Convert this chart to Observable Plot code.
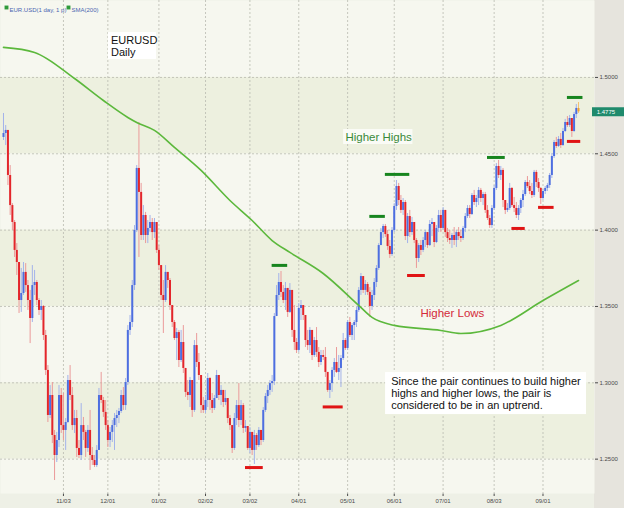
<!DOCTYPE html>
<html>
<head>
<meta charset="utf-8">
<script src="https://cdn.jsdelivr.net/npm/d3@7"></script>
<script src="https://cdn.jsdelivr.net/npm/@observablehq/plot@0.6"></script>
<style>
  html, body { margin: 0; padding: 0; background: #ffffff; }
  #chart { width: 624px; height: 508px; }
</style>
</head>
<body>
<div id="chart"></div>
<script>
// ---------- DATA (EURUSD daily) ----------
const firstOpen = 1.4607;
const close = [
1.4633,1.4653,1.4358,1.4161,1.4050,1.3867,1.3788,1.3539,1.3585,1.3723,
1.3637,1.3539,1.3421,1.3637,1.3657,1.3539,1.3474,1.3500,1.3310,1.3081,
1.2786,1.2917,1.2655,1.2524,1.2622,1.2917,1.2720,1.2688,1.2740,1.3015,
1.2917,1.2720,1.2766,1.2570,1.2524,1.2720,1.2675,1.2570,1.2688,1.2524,
1.2491,1.2458,1.2557,1.2917,1.2884,1.2806,1.2720,1.2622,1.2675,1.2720,
1.2766,1.2786,1.2812,1.2917,1.2851,1.3002,1.3343,1.3395,1.3637,1.3998,
1.4404,1.4247,1.3965,1.4096,1.3965,1.4011,1.4050,1.3984,1.4050,1.3867,
1.3768,1.3572,1.3539,1.3723,1.3670,1.3506,1.3395,1.3290,1.3329,1.3146,
1.3264,1.3094,1.2937,1.2917,1.3015,1.2819,1.3244,1.3133,1.3048,1.2851,
1.2819,1.2884,1.3028,1.2884,1.2832,1.2897,1.3048,1.2917,1.2950,1.2871,
1.2897,1.2766,1.2720,1.2570,1.2766,1.2851,1.2753,1.2851,1.2701,1.2714,
1.2570,1.2675,1.2557,1.2655,1.2589,1.2688,1.2622,1.2819,1.2910,1.2950,
1.2995,1.3008,1.3434,1.3572,1.3657,1.3592,1.3539,1.3618,1.3461,1.3605,
1.3343,1.3264,1.3212,1.3487,1.3506,1.3441,1.3277,1.3244,1.3343,1.3179,
1.3277,1.3199,1.3133,1.3179,1.3166,1.3068,1.2950,1.2995,1.3081,1.3133,
1.3068,1.3094,1.3159,1.3277,1.3225,1.3395,1.3310,1.3375,1.3395,1.3474,
1.3605,1.3696,1.3605,1.3644,1.3592,1.3500,1.3572,1.3657,1.3749,1.3899,
1.3984,1.4024,1.3971,1.3893,1.3840,1.3998,1.4155,1.4286,1.4194,1.4129,
1.4181,1.3958,1.4089,1.3984,1.4050,1.3932,1.3814,1.3899,1.3867,1.3932,
1.3984,1.3899,1.4037,1.4050,1.3919,1.4011,1.4096,1.4011,1.4129,1.3984,
1.3945,1.3932,1.3965,1.3932,1.3984,1.3958,1.3945,1.4011,1.4089,1.4142,
1.4102,1.4227,1.4181,1.4207,1.4260,1.4207,1.4233,1.4129,1.4076,1.4030,
1.4142,1.4273,1.4417,1.4358,1.4391,1.4194,1.4129,1.4142,1.4273,1.4161,
1.4142,1.4096,1.4142,1.4194,1.4233,1.4312,1.4286,1.4253,1.4227,1.4378,
1.4312,1.4273,1.4207,1.4253,1.4273,1.4292,1.4358,1.4482,1.4574,1.4548,
1.4594,1.4554,1.4646,1.4705,1.4685,1.4731,1.4646,1.4757,1.4797,1.4775
];
const high = [
1.4764,1.4685,1.4587,1.4423,1.4174,1.4063,1.3912,1.3788,1.3749,1.3788,
1.3781,1.3670,1.3605,1.3768,1.3736,1.3670,1.3552,1.3539,1.3506,1.3343,
1.3113,1.2982,1.3002,1.2688,1.2675,1.2982,1.2963,1.2930,1.2766,1.3048,
1.3113,1.2969,1.2819,1.2819,1.2622,1.2864,1.2773,1.2688,1.2720,1.2819,
1.2576,1.2524,1.2589,1.2963,1.3068,1.2904,1.2884,1.2753,1.2707,1.2753,
1.2799,1.2819,1.2832,1.2950,1.2969,1.3028,1.3375,1.3441,1.3670,1.4030,
1.4423,1.4705,1.4306,1.4161,1.4116,1.4063,1.4096,1.4076,1.4076,1.4050,
1.3899,1.3768,1.3670,1.3768,1.3723,1.3683,1.3506,1.3408,1.3356,1.3343,
1.3343,1.3375,1.3094,1.3015,1.3035,1.3015,1.3277,1.3323,1.3192,1.3048,
1.2904,1.2917,1.3061,1.3035,1.2930,1.2917,1.3081,1.3048,1.2982,1.2950,
1.2950,1.2897,1.2786,1.2720,1.2799,1.2884,1.2995,1.2884,1.2864,1.2753,
1.2714,1.2707,1.2675,1.2688,1.2668,1.2707,1.2688,1.2838,1.2930,1.2982,
1.3015,1.3048,1.3454,1.3637,1.3716,1.3729,1.3637,1.3657,1.3618,1.3650,
1.3605,1.3506,1.3290,1.3519,1.3539,1.3506,1.3441,1.3343,1.3362,1.3343,
1.3297,1.3362,1.3231,1.3212,1.3212,1.3231,1.3068,1.3015,1.3100,1.3159,
1.3231,1.3179,1.3179,1.3323,1.3290,1.3408,1.3428,1.3388,1.3408,1.3493,
1.3624,1.3716,1.3683,1.3670,1.3657,1.3624,1.3605,1.3683,1.3768,1.3912,
1.4011,1.4037,1.4037,1.3998,1.3932,1.4017,1.4174,1.4325,1.4306,1.4227,
1.4207,1.4194,1.4109,1.4129,1.4083,1.4050,1.3945,1.3912,1.3932,1.3952,
1.3998,1.3984,1.4063,1.4076,1.4050,1.4030,1.4129,1.4129,1.4148,1.4129,
1.4011,1.3998,1.3978,1.4017,1.3998,1.4017,1.3998,1.4024,1.4109,1.4161,
1.4161,1.4240,1.4260,1.4227,1.4279,1.4273,1.4247,1.4247,1.4161,1.4096,
1.4161,1.4292,1.4436,1.4456,1.4417,1.4404,1.4194,1.4174,1.4306,1.4279,
1.4214,1.4181,1.4161,1.4207,1.4260,1.4325,1.4351,1.4325,1.4306,1.4391,
1.4391,1.4338,1.4279,1.4266,1.4286,1.4306,1.4371,1.4502,1.4587,1.4607,
1.4613,1.4633,1.4666,1.4725,1.4744,1.4751,1.4731,1.4771,1.4823,1.4836
];
const low = [
1.4587,1.4554,1.4292,1.4096,1.3998,1.3821,1.3703,1.3454,1.3461,1.3572,
1.3592,1.3474,1.3257,1.3395,1.3572,1.3506,1.3441,1.3408,1.3277,1.3048,
1.2740,1.2766,1.2602,1.2360,1.2478,1.2576,1.2668,1.2622,1.2557,1.2733,
1.2884,1.2688,1.2668,1.2511,1.2504,1.2491,1.2622,1.2511,1.2544,1.2426,
1.2458,1.2445,1.2445,1.2557,1.2864,1.2773,1.2688,1.2576,1.2576,1.2609,
1.2557,1.2707,1.2733,1.2799,1.2819,1.2819,1.2982,1.3310,1.3362,1.3605,
1.3984,1.3821,1.3932,1.3932,1.3912,1.3912,1.3984,1.3932,1.3945,1.3847,
1.3736,1.3539,1.3323,1.3526,1.3618,1.3474,1.3362,1.3277,1.3146,1.3100,
1.3133,1.3061,1.2904,1.2884,1.2838,1.2773,1.2806,1.3100,1.3015,1.2799,
1.2799,1.2799,1.2838,1.2819,1.2799,1.2819,1.2897,1.2884,1.2851,1.2838,
1.2851,1.2733,1.2688,1.2537,1.2557,1.2720,1.2707,1.2720,1.2668,1.2675,
1.2557,1.2537,1.2524,1.2465,1.2557,1.2576,1.2589,1.2609,1.2806,1.2864,
1.2917,1.2937,1.2982,1.3441,1.3539,1.3559,1.3519,1.3474,1.3428,1.3454,
1.3297,1.3212,1.3192,1.3199,1.3408,1.3408,1.3231,1.3212,1.3192,1.3146,
1.3166,1.3166,1.3100,1.3113,1.3146,1.3035,1.2937,1.2897,1.2937,1.3035,
1.3061,1.3015,1.2969,1.3146,1.3212,1.3212,1.3297,1.3277,1.3277,1.3362,
1.3461,1.3572,1.3585,1.3572,1.3572,1.3428,1.3474,1.3539,1.3624,1.3736,
1.3899,1.3945,1.3952,1.3867,1.3814,1.3827,1.3984,1.4129,1.4161,1.4109,
1.4096,1.3932,1.3912,1.3952,1.3965,1.3912,1.3749,1.3788,1.3834,1.3853,
1.3886,1.3880,1.3893,1.3958,1.3886,1.3912,1.3984,1.3984,1.3998,1.3952,
1.3919,1.3906,1.3880,1.3899,1.3886,1.3932,1.3919,1.3932,1.3984,1.4076,
1.4076,1.4096,1.4161,1.4148,1.4161,1.4181,1.4161,1.4109,1.4063,1.4011,
1.4011,1.4129,1.4260,1.4338,1.4325,1.4148,1.4102,1.4115,1.4129,1.4148,
1.4115,1.4076,1.4063,1.4109,1.4148,1.4220,1.4273,1.4233,1.4207,1.4214,
1.4279,1.4247,1.4168,1.4194,1.4233,1.4253,1.4273,1.4338,1.4469,1.4535,
1.4541,1.4535,1.4548,1.4639,1.4672,1.4672,1.4607,1.4639,1.4731,1.4764
];

// SMA(200) read at a set of bar indices
const smaIdx = [0,14,32,45,56,60,68,77,89,102,112,121,129,144,160,166,176,197,206,224,243,259];
const smaVal = [1.5197,1.5164,1.4993,1.4849,1.4738,1.4705,1.4653,1.4542,1.4391,1.4194,1.4063,1.3932,1.3854,1.3716,1.3507,1.3428,1.3376,1.3343,1.3323,1.3376,1.3539,1.3670];

// Higher highs / higher lows markers (bar range + price level)
const hhStart = [121,165,172,218,254];
const hhEnd   = [128,172,183,226,261];
const hhPrice = [1.3769,1.4090,1.4365,1.4476,1.4869];
const hlStart = [109,144,182,229,241,254];
const hlEnd   = [117,153,190,235,248,260];
const hlPrice = [1.2445,1.2842,1.3703,1.4011,1.4149,1.4581];

// Axes
const yTicks = [1.25,1.30,1.35,1.40,1.45,1.50];
const xTickIdx = [27,47,70,91,111,133,155,176,198,221,243];
const xTickLabels = ["11/03","12/01","01/02","02/02","03/02","04/01","05/01","06/01","07/01","08/03","09/01"];
const bandLo = [1.45,1.35,1.25];
const bandHi = [1.50,1.40,1.30];

// Texts
const legendLabels = ["EUR.USD(1 day, 1 p)","SMA(200)"];
const titleText = "EURUSD\nDaily";
const highsText = "Higher Highs";
const lowsText = "Higher Lows";
const noteText = "Since the pair continues to build higher\nhighs and higher lows, the pair is\nconsidered to be in an uptrend.";

// ---------- BUILD ----------
const bars = close.map((c, i) => ({
  i, open: i === 0 ? firstOpen : close[i - 1], close: c, high: high[i], low: low[i],
  last: i === close.length - 1
}));
const sma = smaIdx.map((i, k) => ({i, v: smaVal[k]}));
const hh = hhStart.map((s, k) => ({s, e: hhEnd[k], p: hhPrice[k]}));
const hl = hlStart.map((s, k) => ({s, e: hlEnd[k], p: hlPrice[k]}));
const bands = bandLo.map((lo, k) => ({lo, hi: bandHi[k]}));
const lastClose = close[close.length - 1];

const X0 = -1.35, X1 = 266.2;
const bodyColor = d => d.last ? "#f0a030" : (d.close >= d.open ? "#4d6ee0" : "#e3262b");
const wickColor = d => d.last ? "#f3c070" : (d.close >= d.open ? "#a3b3ea" : "#eb9a9a");
const FONT = "Liberation Sans, Arial, Helvetica, sans-serif";

const chart = Plot.plot({
  width: 624,
  height: 508,
  marginLeft: 0,
  marginRight: 30,
  marginTop: 0,
  marginBottom: 15,
  style: {
    fontSize: "6px",
    fontFamily: FONT,
    color: "#4a4a4a",
    background: "linear-gradient(to right, #eef0e6 594px, #e6e4dd 594px)"
  },
  x: {
    type: "linear",
    domain: [X0, X1],
    axis: "bottom",
    ticks: xTickIdx,
    tickFormat: d => xTickLabels[xTickIdx.indexOf(d)],
    tickSize: 3,
    tickPadding: 2,
    label: null
  },
  y: {
    domain: [1.2275, 1.5504],
    axis: "right",
    ticks: yTicks,
    tickFormat: d => d.toFixed(4),
    tickSize: 3,
    tickPadding: 2,
    label: null
  },
  marks: [
    Plot.frame({fill: "#f6f7ef", stroke: null}),
    Plot.rect(bands, {x1: () => X0, x2: () => X1, y1: "lo", y2: "hi", fill: "#edf0df"}),
    Plot.ruleY(yTicks, {stroke: "#b9bab0", strokeDasharray: "2,2", strokeWidth: 0.8}),
    Plot.ruleX(xTickIdx, {stroke: "#b9bab0", strokeDasharray: "2,2", strokeWidth: 0.8}),
    // candles
    Plot.ruleX(bars, {x: "i", y1: "low", y2: "high", stroke: wickColor, strokeWidth: 1}),
    Plot.ruleX(bars, {x: "i", y1: "open", y2: "close", stroke: bodyColor, strokeWidth: 2}),
    // SMA(200)
    Plot.line(sma, {x: "i", y: "v", stroke: "#5cb83c", strokeWidth: 1.6, curve: "monotone-x"}),
    // markers
    Plot.ruleY(hh, {y: "p", x1: "s", x2: "e", stroke: "#17851e", strokeWidth: 3}),
    Plot.ruleY(hl, {y: "p", x1: "s", x2: "e", stroke: "#e01414", strokeWidth: 3}),
    // title box
    Plot.rect([0], {x1: () => 47.3, x2: () => 68.9, y1: () => 1.5118, y2: () => 1.5294, fill: "white"}),
    Plot.text([titleText], {x: () => 48.4, y: () => 1.5207, text: d => d, textAnchor: "start",
      fontSize: 11, lineHeight: 1.09, fill: "#111", fontFamily: FONT}),
    // Higher highs label
    Plot.rect([0], {x1: () => 153.2, x2: () => 184.4, y1: () => 1.4561, y2: () => 1.4659, fill: "#fafbf6"}),
    Plot.text([highsText], {x: () => 154.0, y: () => 1.4610, text: d => d, textAnchor: "start",
      fontSize: 11.5, fill: "#3a8a3a", fontFamily: FONT}),
    // Higher lows label
    Plot.text([lowsText], {x: () => 187.8, y: () => 1.3454, text: d => d, textAnchor: "start",
      fontSize: 11.5, fill: "#d42a3a", fontFamily: FONT}),
    // note box
    Plot.rect([0], {x1: () => 172.1, x2: () => 262.6, y1: () => 1.2792, y2: () => 1.3067, fill: "white"}),
    Plot.text([noteText], {x: () => 174.6, y: () => 1.2930, text: d => d, textAnchor: "start",
      fontSize: 11, lineHeight: 1.09, fill: "#111", fontFamily: FONT}),
    // legend
    Plot.dot([0], {frameAnchor: "top-left", dx: 6, dy: 7, symbol: "square", r: 2.2, fill: "#2f9a3a"}),
    Plot.text([legendLabels[0]], {frameAnchor: "top-left", dx: 9, dy: 7, text: d => d, textAnchor: "start",
      fontSize: 6, fill: "#4a64b0"}),
    Plot.dot([0], {frameAnchor: "top-left", dx: 68, dy: 7, symbol: "square", r: 2.2, fill: "#2f9a3a"}),
    Plot.text([legendLabels[1]], {frameAnchor: "top-left", dx: 71, dy: 7, text: d => d, textAnchor: "start",
      fontSize: 6, fill: "#4a64b0"}),
    // current price tag
    Plot.ruleY([lastClose], {x1: () => 265.3, x2: () => 280, stroke: "#1f8a6c", strokeWidth: 9}),
    Plot.text([lastClose], {x: () => 267.2, y: d => d, text: d => d.toFixed(4), textAnchor: "start",
      fontSize: 6, fill: "white"})
  ]
});

document.getElementById("chart").appendChild(chart);
</script>
</body>
</html>
